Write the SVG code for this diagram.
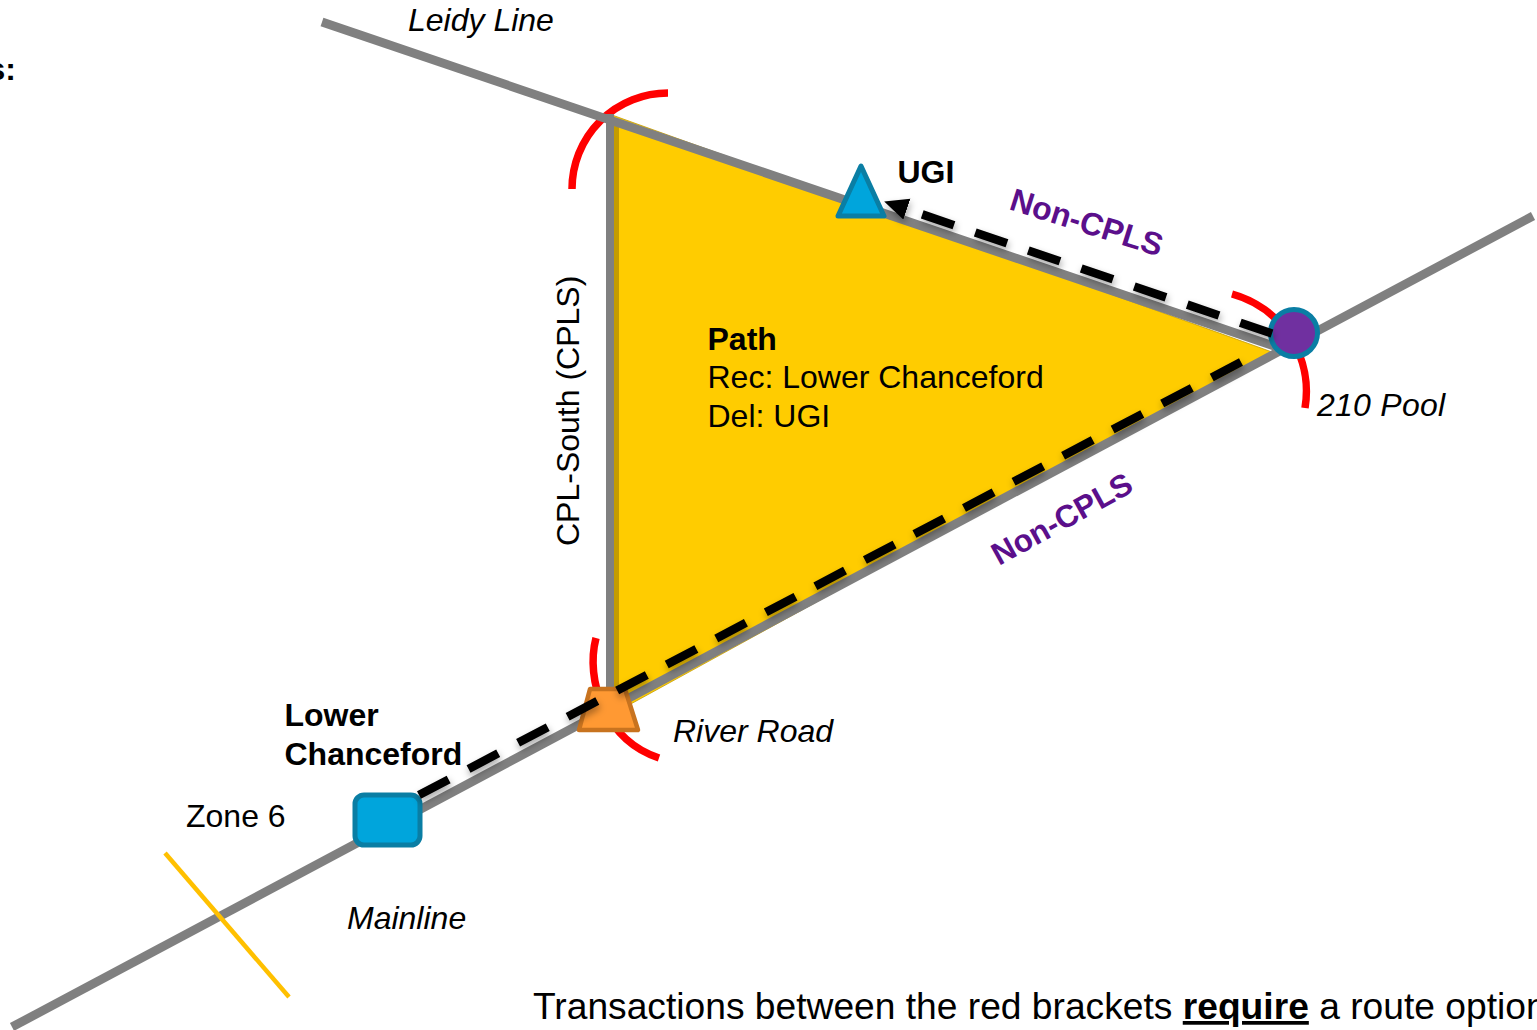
<svg xmlns="http://www.w3.org/2000/svg" width="1537" height="1030" viewBox="0 0 1537 1030">
<style>
text{font-family:"Liberation Sans",Arial,sans-serif;font-size:32px;fill:#000}
.i{font-style:italic}
.b{font-weight:bold}
.p{font-weight:bold;fill:#5b0f8b}
.g{stroke:#808080;stroke-width:8.800;fill:none}
.v{stroke:#808080;stroke-width:8;fill:none}
.r{stroke:#ff0000;stroke-width:7.500;fill:none}
.d{stroke:#000;stroke-width:8.500;fill:none;stroke-dasharray:33.5 22.5;filter:url(#s)}
</style>
<defs>
<filter id="s" x="-10%" y="-10%" width="120%" height="130%"><feDropShadow dx="1" dy="4" stdDeviation="3.500" flood-color="#000" flood-opacity="0.35"/></filter>
<marker id="a" markerUnits="userSpaceOnUse" markerWidth="28" markerHeight="28" refX="2" refY="11" orient="auto"><path d="M0 0L24 11L0 22Z" fill="#000"/></marker>
</defs>
<g id="area">
<path d="M612 115L1272 352L618 711Z" fill="#ffcc00" stroke="#c49c00" stroke-width="0.800"/>
<path d="M614 125H619V700H614Z" fill="#c49c00"/>
</g>
<g id="connectors">
<path class="r" d="M572 189A96 96 0 0 1 668 93"/>
<path class="r" d="M1232 294A101 101 0 0 1 1305 408"/>
<path class="r" d="M596 638C585 680 605 740 659 758"/>
<path class="g" d="M322 22L1280 348"/>
<path class="g" d="M12 1027L1533 216"/>
<path class="v" d="M610 114V700"/>
<path d="M165 853L289 997" stroke="#ffc000" stroke-width="4.500" fill="none"/>
</g>
<g id="ugi"><path d="M861 166L884 216H838Z" fill="#00a5dc" stroke="#0a7ea4" stroke-width="5" stroke-linejoin="round"/><text class="b" x="897.500" y="183">UGI</text></g>
<g id="pool210"><circle cx="1294" cy="333" r="23.500" fill="#7030a0" stroke="#0a7ea4" stroke-width="5"/><text class="i" x="1317" y="416" letter-spacing="0.250">210 Pool</text></g>
<g id="riverroad"><path d="M590 689H625L638 730H579Z" fill="#ff9933" stroke="#c8731f" stroke-width="4.500" stroke-linejoin="round"/><text class="i" x="673" y="742">River Road</text></g>
<g id="lowerchanceford"><rect x="355" y="795" width="65" height="50" rx="9" fill="#00a5dc" stroke="#0a7ea4" stroke-width="5"/><text class="b" x="284.500" y="726">Lower</text><text class="b" x="284.500" y="765">Chanceford</text></g>
<g id="connectors-dashed">
<path class="d" d="M419 795L1241 362"/>
<path class="d" d="M1272 333.500L905 208.500" marker-end="url(#a)"/>
</g>
<g id="labels">
<text class="b" x="16" y="80" text-anchor="end">s:</text>
<text class="i" x="408" y="31">Leidy Line</text>
<text class="p" transform="translate(1008 209) rotate(17.500)">Non-CPLS</text>
<text class="p" style="font-size:31.500px" transform="translate(999 566) rotate(-29)">Non-CPLS</text>
<text transform="translate(579 546) rotate(-90)">CPL-South (CPLS)</text>
<text class="b" x="707.500" y="350">Path</text>
<text x="707.500" y="388">Rec: Lower Chanceford</text>
<text x="707.500" y="427">Del: UGI</text>
<text x="186" y="827">Zone 6</text>
<text class="i" x="347" y="929">Mainline</text>
<text x="533" y="1019" style="font-size:37.200px">Transactions between the red brackets <tspan class="b" text-decoration="underline">require</tspan> a route option</text>
</g>
</svg>
